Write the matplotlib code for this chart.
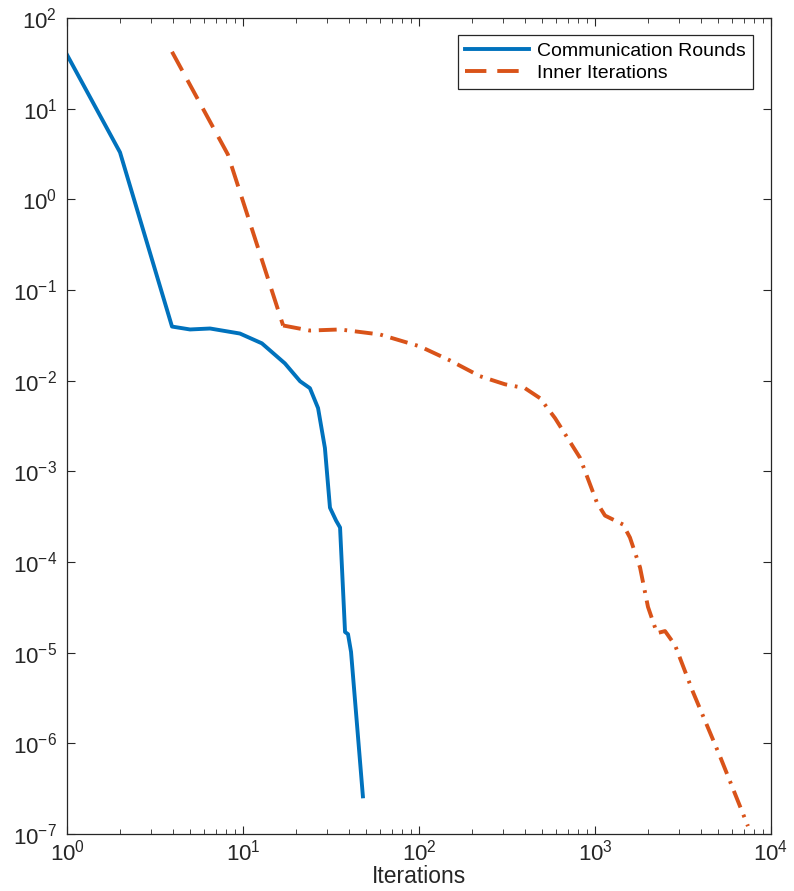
import matplotlib
matplotlib.use("Agg")
import matplotlib.pyplot as plt
from matplotlib.lines import Line2D

plt.rcParams["font.family"] = ["Liberation Sans", "DejaVu Sans"]
plt.rcParams["mathtext.default"] = "regular"

BLUE = "#0072BD"
ORANGE = "#D95319"
AX_COL = "#262626"

# --- data ------------------------------------------------------------------

comm_x = [1, 2, 3.95, 5.0, 6.5, 9.6, 12.8, 17.3, 21.1, 24.0, 26.7, 29.2,
          31.2, 33.8, 35.6, 38.0, 39.5, 41.1, 48.0]
comm_y = [39.3, 3.3, 0.0395, 0.0367, 0.0376, 0.0331, 0.0258, 0.0155,
          0.00985, 0.00826, 0.00498, 0.00181, 3.97e-4, 2.86e-4, 2.4e-4,
          1.69e-5, 1.6e-5, 1.02e-5, 2.6e-7]

# steep first part (drawn dashed) and the rest (dash-dot)
inner_x_a = [3.95, 8.2, 16.9]
inner_y_a = [42.4, 3.13, 0.0406]
inner_x_b = [16.9, 24, 35.6, 60, 101, 150, 222, 308, 400, 487, 593, 822,
             1026, 1140, 1443, 1580, 1803, 2000, 2250, 2500, 2850, 3600,
             5130, 7400]
inner_y_b = [0.0406, 0.0357, 0.0367, 0.0323, 0.0239, 0.0167, 0.0112,
             0.00912, 0.00826, 0.00641, 0.00386, 0.00141, 4.51e-4, 3.25e-4,
             2.59e-4, 1.86e-4, 8.7e-5, 3.2e-5, 1.64e-5, 1.73e-5, 1.21e-5,
             3.7e-6, 7.2e-7, 1.22e-7]

# --- figure ----------------------------------------------------------------

fig = plt.figure(figsize=(7.94, 8.91), dpi=100)
ax = fig.add_axes([0.0844, 0.064, 0.8866, 0.9158])

ax.plot(comm_x, comm_y, color=BLUE, linewidth=2.8, solid_joinstyle="round")
ax.plot(inner_x_a, inner_y_a, color=ORANGE, linewidth=2.8,
        dashes=(5.5, 2.8))
ax.plot(inner_x_b, inner_y_b, color=ORANGE, linewidth=2.8,
        dashes=(4.6, 2.0, 0.7, 2.0))

ax.set_xscale("log")
ax.set_yscale("log")
ax.set_xlim(1, 1e4)
ax.set_ylim(1e-7, 1e2)
ax.set_yticks([10.0 ** k for k in range(-7, 3)])
ax.set_xticks([10.0 ** k for k in range(0, 5)])

ax.tick_params(which="both", direction="in", top=True, right=True,
               color=AX_COL, labelcolor=AX_COL, labelsize=16)
ax.tick_params(which="major", length=6, width=0.8)
ax.tick_params(axis="x", which="major", pad=4)
ax.tick_params(axis="y", which="major", pad=7)
ax.tick_params(which="minor", length=3.5, width=0.6)
for s in ax.spines.values():
    s.set_color(AX_COL)
    s.set_linewidth(0.9)

ax.set_xlabel("Iterations", fontsize=16.5, color=AX_COL, labelpad=0)

handles = [
    Line2D([], [], color=BLUE, linewidth=2.8),
    Line2D([], [], color=ORANGE, linewidth=2.8, dashes=(5.5, 2.8)),
]
leg = ax.legend(handles, ["Communication Rounds", "Inner Iterations"],
                loc="upper right", bbox_to_anchor=(0.974, 0.979),
                fontsize=14, handlelength=3.3, handletextpad=0.4,
                borderpad=0.35, labelspacing=0.25, borderaxespad=0,
                fancybox=False, framealpha=1, edgecolor=AX_COL)
leg.get_frame().set_linewidth(0.9)

fig.savefig("out.png", dpi=100)
